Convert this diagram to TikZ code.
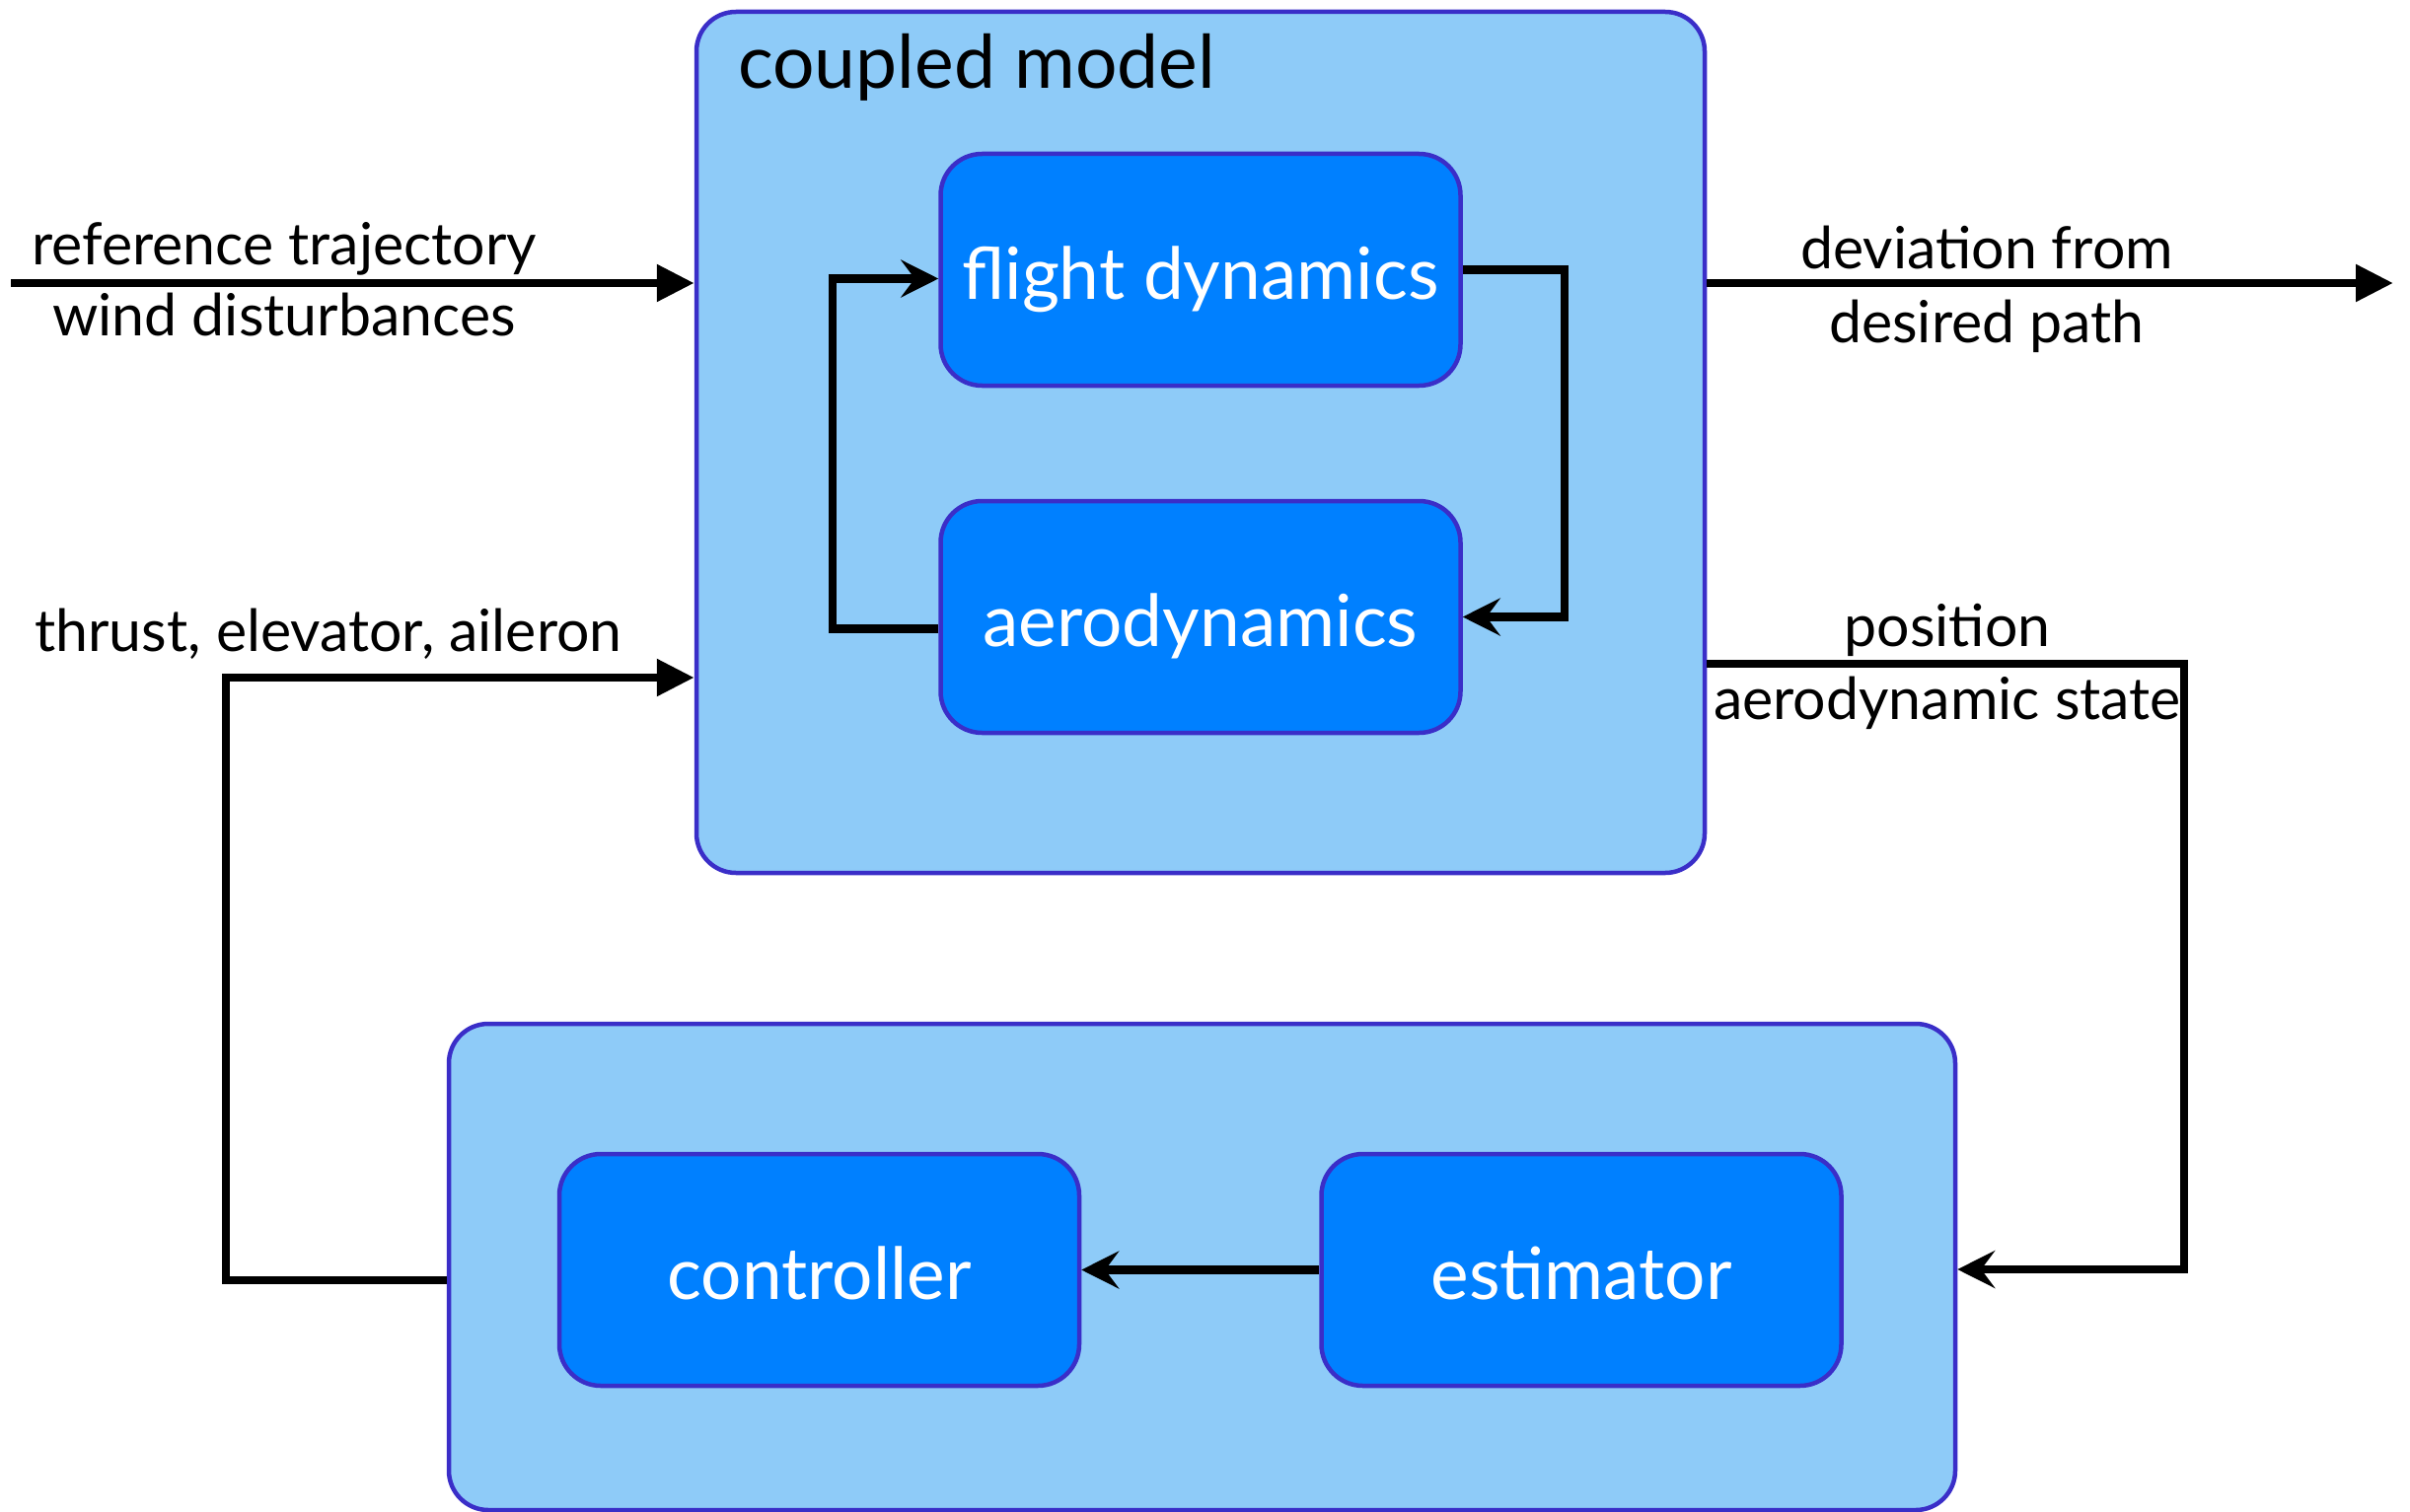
\documentclass[tikz,border=0pt]{standalone}
\usepackage{fontspec}
\setmainfont{Lato}
\usetikzlibrary{arrows.meta}
\definecolor{lightfill}{RGB}{142,203,248}
\definecolor{darkfill}{RGB}{0,128,255}
\definecolor{edgecol}{RGB}{58,46,200}
\tikzset{
 outerbox/.style={draw=edgecol, line width=4.5pt, fill=lightfill, rounded corners=40pt, inner sep=0pt},
 innerbox/.style={draw=edgecol, line width=4.5pt, fill=darkfill, rounded corners=42pt, minimum width=527pt, minimum height=235pt, text=white, font=\fontsize{73}{80}\selectfont, inner sep=0pt, text height=60pt, text depth=0pt},
 lbl/.style={font=\fontsize{59}{64}\selectfont, inner sep=0pt, anchor=base},
 conn/.style={line width=8.5pt},
 tri/.style={-{Triangle[length=38pt,width=36pt]}},
 stl/.style={-{Stealth[length=38pt,width=38pt,inset=14pt]}},
}
\begin{document}
\begin{tikzpicture}[x=1pt,y=-1pt]
\useasboundingbox (0,0) rectangle (2443,1533);
% outer boxes
\node[outerbox, minimum width=1022pt, minimum height=873pt] (coupled) at (1217,448.5) {};
\node[outerbox, minimum width=1527pt, minimum height=493pt] (bottom) at (1218.5,1284.5) {};
\node[anchor=base west, font=\fontsize{75}{80}\selectfont, inner sep=0pt] (title) at (748,90) {coupled model};
% inner boxes
\node[innerbox] (fd) at (1217,273.5) {flight dynamics};
\node[innerbox] (aero) at (1217,625.5) {aerodynamics};
\node[innerbox] (ctrl) at (830.5,1287.5) {controller};
\node[innerbox] (est) at (1603,1287.5) {estimator};
% coordinates
\coordinate (inL) at (11,287);
\coordinate (outR) at (2426,287);
\coordinate (fa) at (1586,0);
\coordinate (al) at (844,0);
\coordinate (tl) at (229,1298);
\coordinate (tu) at (229,687);
\coordinate (pr) at (2214,673);
\coordinate (pd) at (2214,1287);
% connectors
\draw[conn,tri] (inL) -- (coupled.west |- inL);
\draw[conn,tri] (coupled.east |- outR) -- (outR);
\draw[conn,stl] (fd.east) -| (fa |- aero.east) -- (aero.east);
\draw[conn,stl] ([yshift=-12pt]aero.west) -| ([yshift=-9pt]al |- fd.west) -- ([yshift=-9pt]fd.west);
\draw[conn,tri] (bottom.west |- tl) -- (tl) -- (tu) -- (coupled.west |- tu);
\draw[conn,stl] (coupled.east |- pr) -- (pr) -- (pd) -- (bottom.east |- pd);
\draw[conn,stl] (est.west) -- (ctrl.east);
% labels
\node[lbl] (l1) at (288,268) {reference trajectory};
\node[lbl] (l2) at (288,340) {wind disturbances};
\node[lbl] (l3) at (2014,272) {deviation from};
\node[lbl] (l4) at (2014,347) {desired path};
\node[lbl] (l5) at (333,660) {thrust, elevator, aileron};
\node[lbl] (l6) at (1974,655) {position};
\node[lbl] (l7) at (1974,729) {aerodynamic state};
\end{tikzpicture}
\end{document}
